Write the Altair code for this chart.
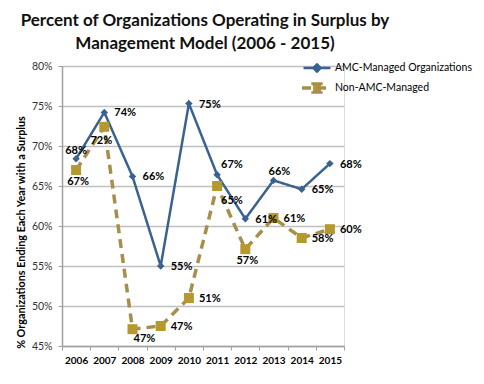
import altair as alt
import pandas as pd

years = [str(y) for y in range(2006, 2016)]
series_names = ["AMC-Managed Organizations", "Non-AMC-Managed"]
amc_values = [0.684, 0.742, 0.662, 0.550, 0.753, 0.664, 0.609, 0.657, 0.646, 0.678]
amc_labels = ["68%", "74%", "66%", "55%", "75%", "67%", "61%", "66%", "65%", "68%"]
non_values = [0.670, 0.724, 0.471, 0.475, 0.510, 0.650, 0.571, 0.610, 0.585, 0.596]
non_labels = ["67%", "72%", "47%", "47%", "51%", "65%", "57%", "61%", "58%", "60%"]

# label placement (category per point, mapped to offsets below)
amc_place = {"2006": "above", "2011": "above_right", "2013": "above_r2"}
non_place = {"2006": "below", "2007": "below_l", "2008": "below_right",
             "2011": "below_right2", "2012": "below"}

rows = []
for y, v, l in zip(years, amc_values, amc_labels):
    rows.append(dict(year=y, value=v, label=l, series=series_names[0],
                     place=amc_place.get(y, "right")))
for y, v, l in zip(years, non_values, non_labels):
    rows.append(dict(year=y, value=v, label=l, series=series_names[1],
                     place=non_place.get(y, "right")))
df = pd.DataFrame(rows)

FONT = "Lato"
blue = "#3a6291"
gold_line = "#a68f4c"
gold_fill = "#b5982e"

x_enc = alt.X("year:O", sort=years,
              scale=alt.Scale(type="band", paddingInner=0, paddingOuter=0),
              axis=alt.Axis(title=None, labelAngle=0, labelFont=FONT, labelFontWeight="bold",
                            labelFontSize=10, labelColor="#000", labelPadding=5,
                            tickBand="extent", tickSize=4, tickColor="#a0a0a0",
                            domainColor="#a0a0a0", domainWidth=1.5, grid=False))
y_enc = alt.Y("value:Q",
              scale=alt.Scale(domain=[0.45, 0.80], nice=False, zero=False),
              axis=alt.Axis(title="% Organizations Ending Each Year with a Surplus",
                            format=".0%", values=[0.45, 0.5, 0.55, 0.6, 0.65, 0.7, 0.75, 0.8],
                            labelFont=FONT, labelFontSize=10.5, labelColor="#333",
                            labelPadding=6, tickSize=4, tickColor="#a0a0a0",
                            domainColor="#a0a0a0", domainWidth=1.5,
                            gridColor="#c0c0c0", gridWidth=1.5,
                            titleFont=FONT, titleFontSize=10.8, titleFontWeight="bold",
                            titleColor="#000", titleAngle=270, titleX=-41, titleY=166,
                            titleAlign="center", titleBaseline="middle"))

dom = series_names
legend_paths = [
    "M-0.9,0H0.9M0,-0.24L0.24,0L0,0.24L-0.24,0Z",
    "M-1,0H1M-0.26,-0.26H0.26V0.26H-0.26Z",
]

leg = alt.Legend(orient="none", legendX=238, legendY=-5, title=None,
                 labelFont=FONT, labelFontSize=10.5, labelColor="#000", labelOffset=1,
                 symbolSize=900, symbolStrokeWidth=2.5, clipHeight=14, rowPadding=6,
                 padding=0, labelLimit=300)

lines = alt.Chart(df).mark_line().encode(
    x=x_enc, y=y_enc,
    stroke=alt.Stroke("series:N", scale=alt.Scale(domain=dom, range=[blue, gold_line]), legend=leg),
    strokeDash=alt.StrokeDash("series:N", scale=alt.Scale(domain=dom, range=[[1, 0], [9, 6]]), legend=leg),
    strokeWidth=alt.StrokeWidth("series:N", scale=alt.Scale(domain=dom, range=[2.5, 3.5]), legend=None),
)

pts_amc = alt.Chart(df).transform_filter(alt.datum.series == dom[0]).mark_point(
    shape="diamond", filled=True, size=55, opacity=1).encode(
    x=x_enc, y=y_enc,
    fill=alt.Fill("series:N", scale=alt.Scale(domain=dom, range=[blue, gold_fill]), legend=leg))
pts_non = alt.Chart(df).transform_filter(alt.datum.series == dom[1]).mark_point(
    shape="square", filled=True, size=100, opacity=1).encode(
    x=x_enc, y=y_enc,
    fill=alt.Fill("series:N", scale=alt.Scale(domain=dom, range=[blue, gold_fill]), legend=leg))

legend_layer = alt.Chart(df).transform_filter("false").mark_point(filled=True).encode(
    x=x_enc, y=y_enc,
    shape=alt.Shape("series:N", scale=alt.Scale(domain=dom, range=legend_paths), legend=leg))

place_styles = {
    "right": dict(align="left", dx=10, dy=1),
    "above": dict(align="center", dx=0, dy=-8),
    "above_r2": dict(align="center", dx=6, dy=-8),
    "above_right": dict(align="left", dx=4, dy=-10),
    "below": dict(align="center", dx=2, dy=12),
    "below_l": dict(align="center", dx=-3, dy=14),
    "below_right": dict(align="left", dx=1, dy=10),
    "below_right2": dict(align="left", dx=4, dy=15),
}
texts = []
for name, st in place_styles.items():
    texts.append(alt.Chart(df).transform_filter(alt.datum.place == name).mark_text(
        font=FONT, fontSize=11, fontWeight="bold", color="#000", baseline="middle", **st
    ).encode(x=x_enc, y=y_enc, text="label:N"))

chart = alt.layer(lines, pts_amc, pts_non, legend_layer, *texts).properties(
    width=282, height=280,
    autosize=alt.AutoSizeParams(type="none"),
    padding={"left": 54, "top": 58, "right": 132, "bottom": 30},
    title=alt.TitleParams(
        ["Percent of Organizations Operating in Surplus by", "Management Model (2006 - 2015)"],
        font=FONT, fontSize=17, fontWeight="bold", color="#111", anchor="middle",
        frame="group", lineHeight=23, offset=8, dx=2),
).configure_view(fill="#f4f8fb", stroke=None).configure(background="white")

chart.save("out.html", embed_options={"renderer": "svg", "actions": False})
